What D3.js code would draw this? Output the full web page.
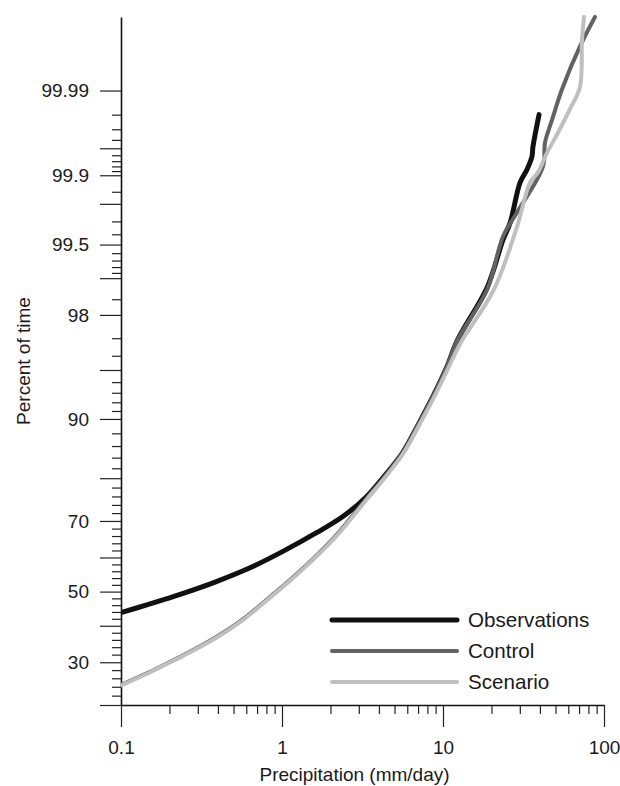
<!DOCTYPE html>
<html>
<head>
<meta charset="utf-8">
<script src="https://cdn.jsdelivr.net/npm/d3@7"></script>
<style>
  body { margin: 0; background: #fff; }
  text { font-family: "Liberation Sans", Arial, sans-serif; fill: #1a1a1a; }
</style>
</head>
<body>
<script>
// precipitation (mm/day) and percent of time
const obsPrecip = [0.1, 0.148, 0.193, 0.238, 0.384, 0.633, 1.02, 1.64, 2.40, 3.36, 4.26, 5.62, 7.08, 8.71, 10.55, 12.3, 18.8, 23.6, 26.1, 30.1, 33.2, 35.7, 36.2, 39.5];
const obsPct    = [43.8, 46.2, 47.9, 49.3, 52.8, 57.0, 61.8, 66.9, 71.2, 76.0, 80.2, 84.9, 89.4, 92.7, 95.2, 96.9, 98.8, 99.55, 99.69, 99.88, 99.913, 99.938, 99.952, 99.98];

const ctrlPrecip = [0.1, 0.148, 0.193, 0.238, 0.384, 0.562, 0.842, 1.29, 2.08, 2.65, 3.36, 4.26, 5.62, 7.08, 8.71, 10.55, 12.3, 18.8, 23.6, 28.8, 41.8, 43.0, 47.6, 54.8, 70.9, 87.9];
const ctrlPct    = [24.4, 27.4, 29.7, 31.6, 36.6, 41.6, 48.4, 56.0, 65.3, 70.6, 75.6, 80.0, 84.9, 89.4, 92.7, 95.2, 96.9, 98.75, 99.58, 99.755, 99.92, 99.957, 99.977, 99.9903, 99.9974, 99.999];

const scenPrecip = [0.1, 0.148, 0.193, 0.238, 0.384, 0.562, 0.842, 1.29, 2.08, 2.65, 3.36, 4.26, 5.62, 7.08, 8.71, 10.55, 12.76, 20.7, 28.8, 34.7, 38.9, 44.3, 51.8, 61.5, 70.9, 73.0, 75.1];
const scenPct    = [24.3, 27.3, 29.6, 31.5, 36.4, 41.4, 48.2, 55.8, 65.0, 70.3, 75.3, 79.7, 84.6, 89.1, 92.4, 94.9, 96.7, 98.75, 99.66, 99.88, 99.907, 99.944, 99.967, 99.983, 99.991, 99.9979, 99.999];

const seriesNames = ["Observations", "Control", "Scenario"];

const yLabelPct   = [30, 50, 70, 90, 98, 99.5, 99.9, 99.99];
const yLabelText  = ["30", "50", "70", "90", "98", "99.5", "99.9", "99.99"];
const yLongPct    = [20, 40, 60, 80, 95, 99, 99.8, 99.95];
const yShortPct   = [22, 24, 26, 28, 32, 34, 36, 38, 42, 44, 46, 48, 52, 54, 56, 58, 62, 64, 66, 68,
                     72, 74, 76, 78, 82, 84, 86, 88, 91, 92, 93, 94, 96, 97, 98.5,
                     99.1, 99.2, 99.3, 99.4, 99.6, 99.7, 99.85,
                     99.91, 99.92, 99.93, 99.94, 99.96, 99.97, 99.98];
const xMajor      = [0.1, 1, 10, 100];
const xMajorText  = ["0.1", "1", "10", "100"];
const xMinor      = [0.2, 0.3, 0.4, 0.5, 0.6, 0.7, 0.8, 0.9, 2, 3, 4, 5, 6, 7, 8, 9, 20, 30, 40, 50, 60, 70, 80, 90];

// inverse normal cdf (Acklam)
function probit(p) {
  const a = [-3.969683028665376e+01, 2.209460984245205e+02, -2.759285104469687e+02, 1.383577518672690e+02, -3.066479806614716e+01, 2.506628277459239e+00];
  const b = [-5.447609879822406e+01, 1.615858368580409e+02, -1.556989798598866e+02, 6.680131188771972e+01, -1.328068155288572e+01];
  const c = [-7.784894002430293e-03, -3.223964580411365e-01, -2.400758277161838e+00, -2.549671348193943e+00, 4.374664141464968e+00, 2.938163982698783e+00];
  const d = [7.784695709041462e-03, 3.224671290700398e-01, 2.445134137142996e+00, 3.754408661907416e+00];
  const plow = 0.02425;
  let q, r;
  if (p < plow) {
    q = Math.sqrt(-2 * Math.log(p));
    return (((((c[0]*q+c[1])*q+c[2])*q+c[3])*q+c[4])*q+c[5]) / ((((d[0]*q+d[1])*q+d[2])*q+d[3])*q+1);
  } else if (p <= 1 - plow) {
    q = p - 0.5; r = q * q;
    return (((((a[0]*r+a[1])*r+a[2])*r+a[3])*r+a[4])*r+a[5])*q / (((((b[0]*r+b[1])*r+b[2])*r+b[3])*r+b[4])*r+1);
  }
  q = Math.sqrt(-2 * Math.log(1 - p));
  return -(((((c[0]*q+c[1])*q+c[2])*q+c[3])*q+c[4])*q+c[5]) / ((((d[0]*q+d[1])*q+d[2])*q+d[3])*q+1);
}
const zq = p => probit(p / 100);

const width = 620, height = 786;
const mLeft = 121, mRight = 604, mTop = 17, mBottom = 705;

const svg = d3.select("body").append("svg")
    .attr("width", width)
    .attr("height", height);

const x = d3.scaleLog().domain([0.1, 100]).range([mLeft, mRight]);
const yz = d3.scaleLinear().domain([zq(20), zq(99.999)]).range([mBottom, mTop]);
const y = p => yz(zq(p));

// y axis: short, long and labelled ticks
function yAxis(vals, size, labels) {
  const ax = d3.axisLeft(yz)
      .tickValues(vals.map(zq))
      .tickSize(size)
      .tickSizeOuter(0)
      .tickPadding(11)
      .tickFormat(labels ? (d, i) => labels[i] : "");
  const g = svg.append("g")
      .attr("transform", "translate(" + mLeft + ",0)")
      .call(ax);
  g.selectAll(".tick line").attr("stroke", "#222").attr("stroke-width", 1.2);
  g.selectAll("text").style("font-size", "19px").attr("fill", "#1a1a1a");
  return g;
}
yAxis(yShortPct, 9, null).select(".domain").remove();
yAxis(yLongPct, 21, null).select(".domain").remove();
yAxis(yLabelPct, 21, yLabelText).select(".domain").attr("stroke", "#111").attr("stroke-width", 1.6);

// x axis
function xAxis(vals, size, labels) {
  const ax = d3.axisBottom(x)
      .tickValues(vals)
      .tickSize(size)
      .tickSizeOuter(0)
      .tickPadding(14)
      .tickFormat(labels ? (d, i) => labels[i] : "");
  const g = svg.append("g")
      .attr("transform", "translate(0," + mBottom + ")")
      .call(ax);
  g.selectAll(".tick line").attr("stroke", "#222").attr("stroke-width", 1.2);
  g.selectAll("text").style("font-size", "19px").attr("fill", "#1a1a1a");
  return g;
}
xAxis(xMinor, 9, null).select(".domain").remove();
xAxis(xMajor, 22, xMajorText).select(".domain").attr("stroke", "#111").attr("stroke-width", 1.6);

// axis titles
svg.append("text")
    .attr("x", (mLeft + mRight) / 2 - 8)
    .attr("y", 781)
    .attr("text-anchor", "middle")
    .style("font-size", "19px")
    .text("Precipitation (mm/day)");

svg.append("text")
    .attr("transform", "translate(30," + ((mTop + mBottom) / 2) + ") rotate(-90)")
    .attr("text-anchor", "middle")
    .style("font-size", "19px")
    .text("Percent of time");

// lines
const lineFunction = d3.line()
    .x(d => x(d[0]))
    .y(d => y(d[1]))
    .curve(d3.curveCatmullRom.alpha(0.5));

const series = [
  {name: seriesNames[0], xs: obsPrecip,  ys: obsPct,  color: "#111",    w: 5},
  {name: seriesNames[1], xs: ctrlPrecip, ys: ctrlPct, color: "#626262", w: 4},
  {name: seriesNames[2], xs: scenPrecip, ys: scenPct, color: "#bfbfbf", w: 4}
];

svg.append("defs").append("clipPath").attr("id", "plot")
  .append("rect").attr("x", mLeft).attr("y", mTop - 2).attr("width", mRight - mLeft + 10).attr("height", mBottom - mTop + 2);

svg.append("g").attr("clip-path", "url(#plot)")
  .selectAll("path")
  .data(series)
  .join("path")
    .attr("d", s => lineFunction(d3.zip(s.xs, s.ys)))
    .attr("fill", "none")
    .attr("stroke", s => s.color)
    .attr("stroke-width", s => s.w)
    .attr("stroke-linecap", "round")
    .attr("stroke-linejoin", "round");

// legend
const legend = svg.append("g").attr("transform", "translate(332,620)");
series.forEach(function(s, i) {
  legend.append("line")
      .attr("x1", 0).attr("x2", 125)
      .attr("y1", i * 31).attr("y2", i * 31)
      .attr("stroke", s.color)
      .attr("stroke-width", s.w)
      .attr("stroke-linecap", "round");
  legend.append("text")
      .attr("x", 136)
      .attr("y", i * 31)
      .attr("dy", "0.36em")
      .style("font-size", "20.6px")
      .text(s.name);
});
</script>
</body>
</html>
